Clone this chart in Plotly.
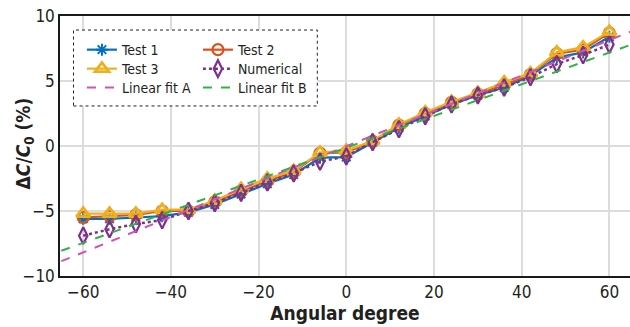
import plotly.graph_objects as go

angles = [-60, -54, -48, -42, -36, -30, -24, -18, -12, -6, 0, 6, 12, 18, 24, 30, 36, 42, 48, 54, 60]
test1 = [-5.6, -5.6, -5.5, -5.4, -5.1, -4.5, -3.7, -2.9, -2.2, -0.9, -0.85, 0.3, 1.4, 2.3, 3.2, 3.9, 4.5, 5.4, 6.8, 7.2, 8.4]
test2 = [-5.5, -5.4, -5.3, -5.0, -5.0, -4.3, -3.5, -2.7, -2.0, -0.55, -0.5, 0.35, 1.6, 2.5, 3.35, 4.0, 4.7, 5.5, 7.1, 7.4, 8.7]
test3 = [-5.2, -5.2, -5.2, -4.9, -4.9, -4.2, -3.3, -2.5, -1.9, -0.5, -0.35, 0.4, 1.65, 2.6, 3.4, 4.1, 4.9, 5.6, 7.2, 7.6, 8.8]
numerical = [-6.9, -6.4, -6.0, -5.7, -5.0, -4.4, -3.6, -2.8, -2.1, -1.2, -0.8, 0.3, 1.3, 2.3, 3.2, 3.9, 4.5, 5.3, 6.3, 7.0, 7.8]
fit_x = [-65, 65]
fit_a = [-8.86, 8.82]
fit_b = [-8.06, 7.8]
x_ticks = [-60, -40, -20, 0, 20, 40, 60]
y_ticks = [-10, -5, 0, 5, 10]

FONT = "DejaVu Sans Condensed, Liberation Sans Narrow, sans-serif"
TXT = "#231f20"

fig = go.Figure()
fig.add_trace(go.Scatter(x=angles, y=test1, name="Test 1", mode="lines+markers",
                         line=dict(color="#0072BD", width=2.2),
                         marker=dict(symbol="asterisk-open", size=10, line=dict(color="#0072BD", width=2)),
                         legend="legend"))
fig.add_trace(go.Scatter(x=angles, y=test2, name="Test 2", mode="lines+markers",
                         line=dict(color="#D95319", width=2.2),
                         marker=dict(symbol="circle-open", size=11, line=dict(color="#D95319", width=2.2)),
                         legend="legend"))
fig.add_trace(go.Scatter(x=angles, y=test3, name="Test 3", mode="lines+markers",
                         line=dict(color="#EDB120", width=2.2),
                         marker=dict(symbol="triangle-up-open", size=12, line=dict(color="#EDB120", width=2.8)),
                         legend="legend2"))
fig.add_trace(go.Scatter(x=angles, y=numerical, name="Numerical", mode="lines+markers",
                         line=dict(color="#7E2F8E", width=2.5, dash="dot"),
                         marker=dict(symbol="diamond-tall-open", size=12, line=dict(color="#7E2F8E", width=2.2)),
                         legend="legend2"))
fig.add_trace(go.Scatter(x=fit_x, y=fit_a, name="Linear fit A", mode="lines",
                         line=dict(color="#CC55B4", width=2, dash="dash"),
                         legend="legend3"))
fig.add_trace(go.Scatter(x=fit_x, y=fit_b, name="Linear fit B", mode="lines",
                         line=dict(color="#33B04A", width=2, dash="dash"),
                         legend="legend3"))

leg_common = dict(orientation="h", xanchor="left", yanchor="middle", x=0.0385,
                  bgcolor="rgba(0,0,0,0)", borderwidth=0, entrywidth=71, entrywidthmode="pixels",
                  font=dict(family=FONT, size=14, color=TXT), itemwidth=30)

fig.update_layout(
    width=630, height=327,
    margin=dict(l=60, r=0, t=16, b=51),
    paper_bgcolor="white", plot_bgcolor="white",
    font=dict(family=FONT, size=14, color=TXT),
    legend=dict(leg_common, y=0.869),
    legend2=dict(leg_common, y=0.796),
    legend3=dict(leg_common, y=0.723),
    xaxis=dict(range=[-65.3, 64.7], tickvals=x_ticks, showgrid=True, gridcolor="#dcdcdc", gridwidth=1.5,
               zeroline=False, showline=True, linecolor="#1a1a1a", linewidth=1.5, mirror=True,
               ticks="", automargin=False, tickfont=dict(family=FONT, size=17, color=TXT),
               title=dict(text="<b>Angular degree</b>", font=dict(family=FONT, size=19, color=TXT), standoff=2)),
    yaxis=dict(range=[-10, 10], tickvals=y_ticks, showgrid=True, gridcolor="#dcdcdc", gridwidth=1.5,
               zeroline=False, showline=True, linecolor="#1a1a1a", linewidth=1.5, mirror=False,
               ticks="", automargin=False, tickfont=dict(family=FONT, size=17, color=TXT)),
    annotations=[dict(text="<b>Δ<i>C</i>/<i>C</i><sub>0</sub> (%)</b>", textangle=-90,
                      xref="paper", yref="paper", x=0, y=0.51, xanchor="center", yanchor="middle",
                      xshift=-36, showarrow=False, font=dict(family=FONT, size=19, color=TXT))],
    shapes=[dict(type="rect", xref="paper", yref="paper", x0=0.0237, x1=0.4514, y0=0.654, y1=0.946,
                 line=dict(color="#222", width=1, dash="dot"), fillcolor="white", layer="above")],
)

fig.write_html("out.html", config={"displayModeBar": False},
               post_script="document.body.style.margin='0px';")
